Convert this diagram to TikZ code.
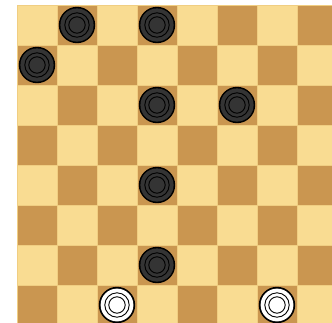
\documentclass[tikz,border=0pt]{standalone}
\definecolor{lightsq}{RGB}{249,220,146}
\definecolor{darksq}{RGB}{202,150,80}
\definecolor{gridln}{RGB}{240,206,130}
\definecolor{blackpc}{RGB}{52,52,52}
\begin{document}
\begin{tikzpicture}[x=1pt,y=-1pt,
  sqlight/.style={fill=lightsq,draw=gridln,line width=0.6pt},
  sqdark/.style={fill=darksq,draw=gridln,line width=0.6pt},
  blackpiece/.pic={
    \fill[black] (0,0) circle (18.2);
    \fill[blackpc] (0,0) circle (16.6);
    \draw[black,line width=0.9pt] (0,0) circle (12.2);
    \draw[black,line width=0.9pt] (0,0) circle (8.2);
  },
  whitepiece/.pic={
    \fill[black] (0,0) circle (18.2);
    \fill[white] (0,0) circle (16.4);
    \draw[black,line width=0.9pt] (0,0) circle (12.2);
    \draw[black,line width=0.9pt] (0,0) circle (8.2);
  }]
\useasboundingbox (0,0) rectangle (332,322);
\fill[white] (0,0) rectangle (332,322);
\clip (0,0) rectangle (332,322);
\foreach \c in {0,...,7}{
  \foreach \r in {0,...,7}{
    \pgfmathtruncatemacro{\parity}{mod(\c+\r,2)}
    \ifnum\parity=0
      \path[sqlight] ({17+40*\c},{5+40*\r}) rectangle ++(40,40);
    \else
      \path[sqdark] ({17+40*\c},{5+40*\r}) rectangle ++(40,40);
    \fi
  }
}
% black pieces (col,row)
\foreach \c/\r in {1/0,3/0,0/1,3/2,5/2,3/4,3/6}{
  \pic at ({37+40*\c},{25+40*\r}) {blackpiece};
}
% white pieces
\foreach \c/\r in {2/7,6/7}{
  \pic at ({37+40*\c},{25+40*\r}) {whitepiece};
}
\end{tikzpicture}
\end{document}
